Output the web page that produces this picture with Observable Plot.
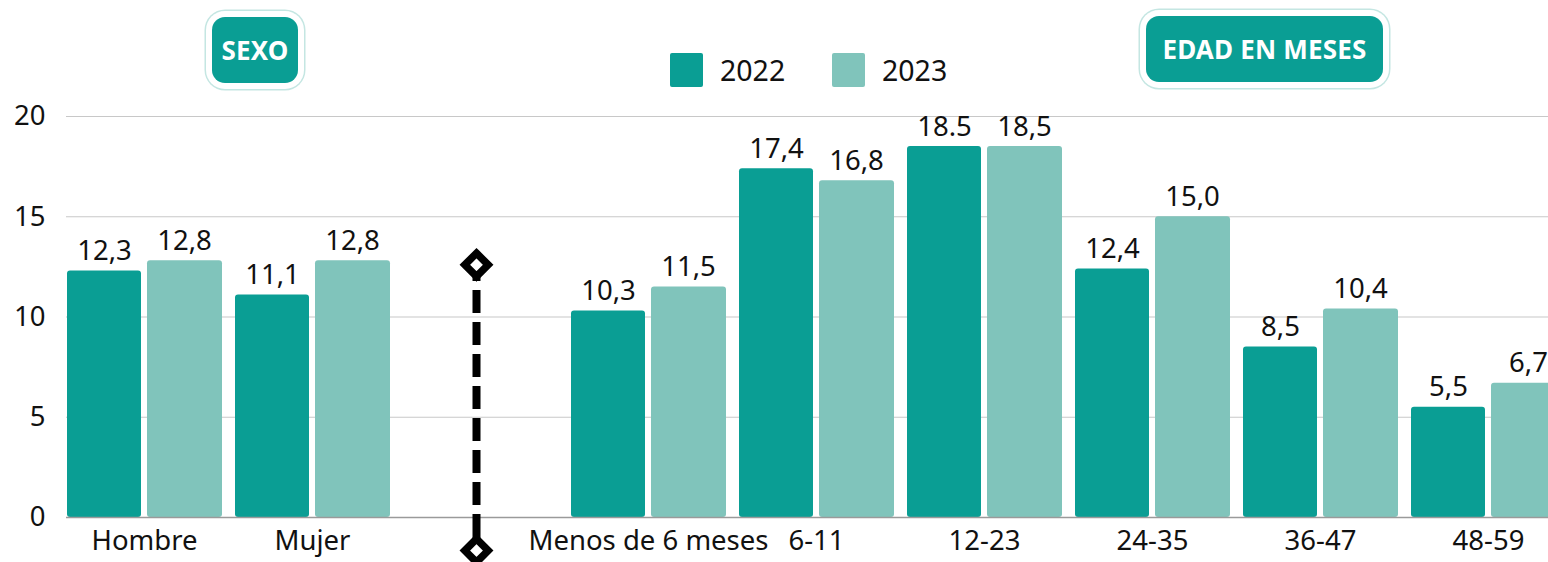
<!DOCTYPE html>
<html>
<head>
<meta charset="utf-8">
<script src="https://cdn.jsdelivr.net/npm/d3@7"></script>
<script src="https://cdn.jsdelivr.net/npm/@observablehq/plot@0.6"></script>
<style>
  html, body { margin: 0; padding: 0; background: #fff; }
  body { font-family: "Noto Sans", sans-serif; color: #111; }
  #wrap { position: relative; width: 1548px; height: 562px; overflow: hidden; }
  #header { position: relative; width: 1548px; height: 100px; }
  .badge { position: absolute; background: #0a9e94; color: #fff; font-weight: 700;
    border-radius: 13px; display: flex; align-items: center; justify-content: center;
    font-size: 26px; letter-spacing: 0.2px;
    box-shadow: 0 0 0 6px #fff, 0 0 0 7.5px #c4e6e2; }
  .sw { position: absolute; width: 33px; height: 34px; border-radius: 2px; }
  .lt { position: absolute; font-size: 28.5px; line-height: 34px; color: #111; }
</style>
</head>
<body>
<div id="wrap">
  <div id="header"></div>
  <div id="chart"></div>
</div>
<script>
// ---- data ----
const categories = ["Hombre", "Mujer", "Menos de 6 meses", "6-11", "12-23", "24-35", "36-47", "48-59"];
const values2022 = [12.3, 11.1, 10.3, 17.4, 18.5, 12.4, 8.5, 5.5];
const values2023 = [12.8, 12.8, 11.5, 16.8, 18.5, 15.0, 10.4, 6.7];
const labels2022 = ["12,3", "11,1", "10,3", "17,4", "18.5", "12,4", "8,5", "5,5"];
const labels2023 = ["12,8", "12,8", "11,5", "16,8", "18,5", "15,0", "10,4", "6,7"];
const series = ["2022", "2023"];
const yTicks = [0, 5, 10, 15, 20];
const spacer = "";
const groupTitles = ["SEXO", "EDAD EN MESES"];
const dividerTop = 12.6, dividerBottom = -1.65;

const colors = {"2022": "#0a9e94", "2023": "#80c4bb"};

const xDomain = [categories[0], categories[1], spacer, ...categories.slice(2)];
const rows2022 = categories.map((c, i) => ({cat: c, year: "2022", v: values2022[i], label: labels2022[i]}));
const rows2023 = categories.map((c, i) => ({cat: c, year: "2023", v: values2023[i], label: labels2023[i]}));

// ---- header (badges + legend) ----
const header = document.getElementById("header");
function add(html) { header.insertAdjacentHTML("beforeend", html); }
add(`<div class="badge" style="left:212px;top:17px;width:86px;height:66px">${groupTitles[0]}</div>`);
add(`<div class="badge" style="left:1146px;top:16px;width:237px;height:66px">${groupTitles[1]}</div>`);
add(`<div class="sw" style="left:670px;top:53px;background:${colors[series[0]]}"></div>`);
add(`<div class="lt" style="left:720px;top:53px">${series[0]}</div>`);
add(`<div class="sw" style="left:832px;top:53px;background:${colors[series[1]]}"></div>`);
add(`<div class="lt" style="left:882px;top:53px">${series[1]}</div>`);

// ---- chart ----
const fs = 27.5;
const chart = Plot.plot({
  width: 1548,
  height: 462,
  marginTop: 16,
  marginBottom: 45,
  marginLeft: 66,
  marginRight: 0,
  style: {fontFamily: "Noto Sans", color: "#111", background: "transparent", overflow: "visible"},
  x: {domain: xDomain, range: [60, 60 + 168 * xDomain.length], padding: 0},
  y: {domain: [0, 20]},
  marks: [
    Plot.ruleY(yTicks.slice(1), {stroke: "#c8c8c8", strokeWidth: 1.2}),
    Plot.barY(rows2022, {x: "cat", y: "v", fill: colors["2022"], insetLeft: 7, insetRight: 87, rx: 3}),
    Plot.barY(rows2023, {x: "cat", y: "v", fill: colors["2023"], insetLeft: 87, insetRight: 6, rx: 3}),
    Plot.ruleY([0], {stroke: "#9a9a9a", strokeWidth: 1.3}),
    Plot.text(rows2022, {x: "cat", y: "v", text: "label", dx: -40, dy: -11, lineAnchor: "bottom", fontSize: fs, fill: "#111"}),
    Plot.text(rows2023, {x: "cat", y: "v", text: "label", dx: 40, dy: -11, lineAnchor: "bottom", fontSize: fs, fill: "#111"}),
    Plot.ruleX([spacer], {x: d => d, y1: 0, y2: dividerTop, dx: -4, stroke: "#000", strokeWidth: 8, strokeDasharray: "23,9", strokeDashoffset: -12}),
    Plot.ruleX([spacer], {x: d => d, y1: dividerBottom, y2: 0, dx: -4, stroke: "#000", strokeWidth: 8}),
    Plot.dot([dividerTop, dividerBottom], {x: () => spacer, y: d => d, dx: -4, symbol: "diamond2", r: 10.5, fill: "#fff", stroke: "#000", strokeWidth: 7.5}),
    Plot.axisY({ticks: yTicks, tickSize: 0, tickPadding: 21, fontSize: fs, label: null}),
    Plot.axisX({tickSize: 0, tickPadding: 13, fontSize: fs, label: null, tickFormat: d => d})
  ]
});
document.getElementById("chart").appendChild(chart);
</script>
</body>
</html>
